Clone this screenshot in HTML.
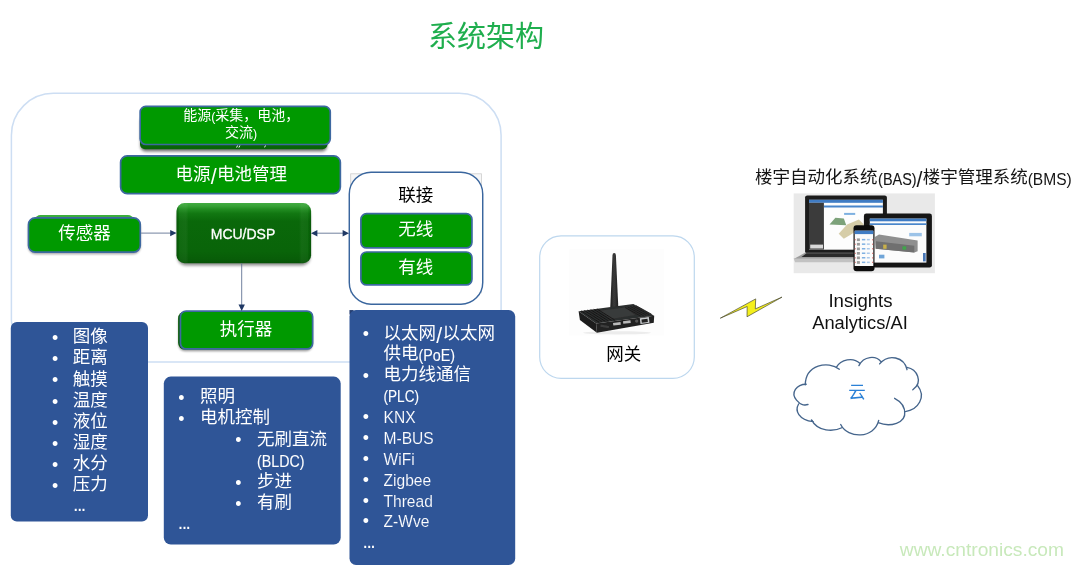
<!DOCTYPE html>
<html lang="zh">
<head>
<meta charset="utf-8">
<title>系统架构</title>
<style>
html,body{margin:0;padding:0;background:#fff}
body{width:1084px;height:566px;position:relative;overflow:hidden;font-family:"Liberation Sans",sans-serif;color:#000}
#pg{position:absolute;left:0;top:0;width:1084px;height:566px;will-change:transform}
.tl{position:absolute;left:0;top:0;white-space:nowrap}
.tl:before{content:"";display:inline-block;width:0;height:1em;vertical-align:-0.12em}
.cj{display:inline-block;position:relative;vertical-align:-0.12em}
.cj .t{position:absolute;left:0;top:-0.05em;width:100%;line-height:1;white-space:nowrap;overflow:visible;font-family:"Liberation Sans","Noto Sans CJK SC",sans-serif}
.la{font-family:"Liberation Sans",sans-serif}
svg.ov{position:absolute;left:0;top:0;overflow:visible}
</style>
</head>
<body>
<div id="pg">
<svg class="ov" width="1084" height="566" viewBox="0 0 1084 566">
<defs>
<filter id="sh" x="-10%" y="-30%" width="120%" height="170%"><feGaussianBlur stdDeviation="1.1"/></filter>
<filter id="sh2" x="-10%" y="-30%" width="120%" height="170%"><feGaussianBlur stdDeviation="1.6"/></filter>
<linearGradient id="mcu" x1="0" y1="0" x2="0" y2="1"><stop offset="0" stop-color="#42ab42"/><stop offset=".05" stop-color="#36a136"/><stop offset=".1" stop-color="#228d22"/><stop offset=".17" stop-color="#127812"/><stop offset=".3" stop-color="#0a680a"/><stop offset=".8" stop-color="#096409"/><stop offset=".93" stop-color="#085d08"/><stop offset="1" stop-color="#065306"/></linearGradient>
<linearGradient id="mcus" x1="0" y1="0" x2="1" y2="0"><stop offset="0" stop-color="#000" stop-opacity=".18"/><stop offset=".02" stop-color="#000" stop-opacity="0"/><stop offset=".021" stop-color="#fff" stop-opacity=".03"/><stop offset=".07" stop-color="#fff" stop-opacity=".045"/><stop offset=".09" stop-color="#fff" stop-opacity="0"/><stop offset=".91" stop-color="#fff" stop-opacity="0"/><stop offset=".93" stop-color="#fff" stop-opacity=".045"/><stop offset=".979" stop-color="#fff" stop-opacity=".03"/><stop offset=".98" stop-color="#000" stop-opacity="0"/><stop offset="1" stop-color="#000" stop-opacity=".18"/></linearGradient>
<linearGradient id="eback" x1="0" y1="0" x2="0" y2="1"><stop offset="0" stop-color="#0a8a0a"/><stop offset="1" stop-color="#076207"/></linearGradient>
</defs>
<rect x="11.40" y="93.30" width="489.70" height="268.60" fill="#fff" rx="42.00" stroke="#cddef3" stroke-width="1.5"/>
<rect x="539.70" y="235.90" width="154.60" height="142.50" fill="#fff" rx="21.40" stroke="#bdd7ee" stroke-width="1.2"/>
<rect x="140.50" y="116.20" width="186.50" height="35.30" rx="5" fill="#000" opacity="0.55" filter="url(#sh2)"/>
<rect x="140.00" y="112.00" width="187.50" height="37.30" fill="url(#eback)" rx="5.00"/>
<path d="M236.6 147.6l1-2.2M238.9 147.6l1-2.2M264.6 147.4l.9-2" stroke="#fff" stroke-width="1" opacity=".95"/>
<rect x="140.15" y="106.40" width="190.10" height="38.10" fill="#009900" rx="5.65" stroke="#3d68a0" stroke-width="1.7"/>
<rect x="120.60" y="155.85" width="219.75" height="37.80" fill="#009900" rx="6.65" stroke="#3d68a0" stroke-width="1.7"/>
<rect x="35.50" y="214.90" width="97.50" height="35.10" fill="#3cae3c" rx="5.00"/>
<rect x="28.15" y="220.20" width="112.45" height="33.95" rx="7.5" fill="#000" opacity="0.35" filter="url(#sh)"/>
<rect x="28.50" y="217.85" width="111.75" height="34.25" fill="#009900" rx="6.65" stroke="#3d68a0" stroke-width="1.7"/>
<rect x="177.50" y="208.20" width="132.60" height="57.20" rx="8" fill="#000" opacity="0.45" filter="url(#sh2)"/>
<rect x="176.50" y="203.10" width="134.60" height="60.10" fill="url(#mcu)" rx="8.00"/>
<rect x="176.50" y="203.10" width="134.60" height="60.10" fill="url(#mcus)" rx="8.00"/>
<rect x="350.70" y="173.80" width="130.80" height="119.00" fill="#f7f7f7" stroke="#cdcdcd" stroke-width="0.8"/>
<rect x="349.28" y="172.22" width="133.45" height="131.95" fill="#fff" rx="21.77" stroke="#3a669e" stroke-width="1.45"/>
<rect x="360.90" y="213.70" width="111.05" height="34.25" fill="#009900" rx="5.65" stroke="#3d68a0" stroke-width="1.7"/>
<rect x="360.90" y="252.00" width="111.05" height="32.95" fill="#009900" rx="5.65" stroke="#3d68a0" stroke-width="1.7"/>
<rect x="178.50" y="314.60" width="134.00" height="36.60" rx="6.5" fill="#000" opacity="0.4" filter="url(#sh)"/>
<rect x="178.10" y="311.50" width="121.90" height="38.10" fill="#0b5c0b" rx="6.50"/>
<rect x="180.45" y="311.05" width="132.20" height="37.90" fill="#009900" rx="5.65" stroke="#3d68a0" stroke-width="1.7"/>
<g stroke="#586c8e" stroke-width="0.85" fill="none"><path d="M141.1 233.1H172"/><path d="M315 233.2H345"/><path d="M241.7 263.5V306"/></g>
<g fill="#1f3864"><path d="M170.2 229.9L176.6 233.1L170.2 236.3Z"/><path d="M317.4 230L311 233.2L317.4 236.4Z"/><path d="M342.6 230L349 233.2L342.6 236.4Z"/><path d="M238.5 304.6L241.7 311L244.9 304.6Z"/></g>
<rect x="10.80" y="322.00" width="137.20" height="199.40" fill="#2f5597" rx="6.00"/>
<rect x="163.80" y="376.60" width="176.90" height="167.90" fill="#2f5597" rx="7.00"/>
<rect x="349.45" y="310.05" width="4.05" height="4.45" fill="#263f72"/>
<rect x="349.50" y="310.00" width="165.70" height="255.00" fill="#2f5597" rx="6.50"/>
</svg>
<div class="tl" style="height:29px;line-height:29px;font-size:29px;color:#1fae4e;transform:translate(calc(486.00px - 50%),24.00px);"><span class="cj" style="width:116px;height:29px;font-size:29px"><span class="t">系统架构</span></span></div>
<div class="tl" style="height:14px;line-height:14px;font-size:14px;color:#fff;transform:translate(calc(241.20px - 50%),109.17px);"><span class="cj" style="width:28px;height:14px;font-size:14px"><span class="t">能源</span></span><span class="la" style="font-size:12.32px;">(</span><span class="cj" style="width:84px;height:14px;font-size:14px"><span class="t">采集，电池，</span></span></div>
<div class="tl" style="height:14px;line-height:14px;font-size:14px;color:#fff;transform:translate(calc(241.00px - 50%),126.07px);"><span class="cj" style="width:28px;height:14px;font-size:14px"><span class="t">交流</span></span><span class="la" style="font-size:12.32px;">)</span></div>
<div class="tl" style="height:17.5px;line-height:17.5px;font-size:17.5px;color:#fff;transform:translate(calc(231.30px - 50%),165.64px);"><span class="cj" style="width:35px;height:17.5px;font-size:17.5px"><span class="t">电源</span></span><span class="la" style="font-size:21.18px;padding:0 0.3px;position:relative;top:1.75px">/</span><span class="cj" style="width:70px;height:17.5px;font-size:17.5px"><span class="t">电池管理</span></span></div>
<div class="tl" style="height:17.5px;line-height:17.5px;font-size:17.5px;color:#fff;transform:translate(calc(84.60px - 50%),226.04px);"><span class="cj" style="width:52.5px;height:17.5px;font-size:17.5px"><span class="t">传感器</span></span></div>
<div class="tl" style="height:14px;line-height:14px;font-size:14px;color:#fff;transform:translate(calc(243.00px - 50%),226.28px);-webkit-text-stroke:0.3px #fff;"><span class="la" style="font-size:14.00px;">MCU/DSP</span></div>
<div class="tl" style="height:17.5px;line-height:17.5px;font-size:17.5px;color:#000;transform:translate(calc(415.80px - 50%),188.04px);"><span class="cj" style="width:35px;height:17.5px;font-size:17.5px"><span class="t">联接</span></span></div>
<div class="tl" style="height:17.5px;line-height:17.5px;font-size:17.5px;color:#fff;transform:translate(calc(415.80px - 50%),222.04px);"><span class="cj" style="width:35px;height:17.5px;font-size:17.5px"><span class="t">无线</span></span></div>
<div class="tl" style="height:17.5px;line-height:17.5px;font-size:17.5px;color:#fff;transform:translate(calc(415.80px - 50%),259.64px);"><span class="cj" style="width:35px;height:17.5px;font-size:17.5px"><span class="t">有线</span></span></div>
<div class="tl" style="height:17.5px;line-height:17.5px;font-size:17.5px;color:#fff;transform:translate(calc(246.00px - 50%),321.64px);"><span class="cj" style="width:52.5px;height:17.5px;font-size:17.5px"><span class="t">执行器</span></span></div>
<div class="tl" style="height:17.7px;line-height:17.7px;font-size:17.7px;color:#fff;transform:translate(calc(55.00px - 50%),328.81px);"><span class="la" style="font-size:17.70px;">•</span></div>
<div class="tl" style="height:17.5px;line-height:17.5px;font-size:17.5px;color:#fff;transform:translate(72.70px,329.44px);"><span class="cj" style="width:35px;height:17.5px;font-size:17.5px"><span class="t">图像</span></span></div>
<div class="tl" style="height:17.7px;line-height:17.7px;font-size:17.7px;color:#fff;transform:translate(calc(55.00px - 50%),349.86px);"><span class="la" style="font-size:17.70px;">•</span></div>
<div class="tl" style="height:17.5px;line-height:17.5px;font-size:17.5px;color:#fff;transform:translate(72.70px,350.49px);"><span class="cj" style="width:35px;height:17.5px;font-size:17.5px"><span class="t">距离</span></span></div>
<div class="tl" style="height:17.7px;line-height:17.7px;font-size:17.7px;color:#fff;transform:translate(calc(55.00px - 50%),370.91px);"><span class="la" style="font-size:17.70px;">•</span></div>
<div class="tl" style="height:17.5px;line-height:17.5px;font-size:17.5px;color:#fff;transform:translate(72.70px,371.54px);"><span class="cj" style="width:35px;height:17.5px;font-size:17.5px"><span class="t">触摸</span></span></div>
<div class="tl" style="height:17.7px;line-height:17.7px;font-size:17.7px;color:#fff;transform:translate(calc(55.00px - 50%),391.96px);"><span class="la" style="font-size:17.70px;">•</span></div>
<div class="tl" style="height:17.5px;line-height:17.5px;font-size:17.5px;color:#fff;transform:translate(72.70px,392.59px);"><span class="cj" style="width:35px;height:17.5px;font-size:17.5px"><span class="t">温度</span></span></div>
<div class="tl" style="height:17.7px;line-height:17.7px;font-size:17.7px;color:#fff;transform:translate(calc(55.00px - 50%),413.01px);"><span class="la" style="font-size:17.70px;">•</span></div>
<div class="tl" style="height:17.5px;line-height:17.5px;font-size:17.5px;color:#fff;transform:translate(72.70px,413.64px);"><span class="cj" style="width:35px;height:17.5px;font-size:17.5px"><span class="t">液位</span></span></div>
<div class="tl" style="height:17.7px;line-height:17.7px;font-size:17.7px;color:#fff;transform:translate(calc(55.00px - 50%),434.06px);"><span class="la" style="font-size:17.70px;">•</span></div>
<div class="tl" style="height:17.5px;line-height:17.5px;font-size:17.5px;color:#fff;transform:translate(72.70px,434.69px);"><span class="cj" style="width:35px;height:17.5px;font-size:17.5px"><span class="t">湿度</span></span></div>
<div class="tl" style="height:17.7px;line-height:17.7px;font-size:17.7px;color:#fff;transform:translate(calc(55.00px - 50%),455.11px);"><span class="la" style="font-size:17.70px;">•</span></div>
<div class="tl" style="height:17.5px;line-height:17.5px;font-size:17.5px;color:#fff;transform:translate(72.70px,455.74px);"><span class="cj" style="width:35px;height:17.5px;font-size:17.5px"><span class="t">水分</span></span></div>
<div class="tl" style="height:17.7px;line-height:17.7px;font-size:17.7px;color:#fff;transform:translate(calc(55.00px - 50%),476.16px);"><span class="la" style="font-size:17.70px;">•</span></div>
<div class="tl" style="height:17.5px;line-height:17.5px;font-size:17.5px;color:#fff;transform:translate(72.70px,476.79px);"><span class="cj" style="width:35px;height:17.5px;font-size:17.5px"><span class="t">压力</span></span></div>
<div class="tl" style="height:17.5px;line-height:17.5px;font-size:17.5px;color:#fff;transform:translate(73.10px,496.04px);letter-spacing:-1.6px;"><span class="la" style="font-size:19.60px;">...</span></div>
<div class="tl" style="height:17.7px;line-height:17.7px;font-size:17.7px;color:#fff;transform:translate(calc(181.40px - 50%),388.81px);"><span class="la" style="font-size:17.70px;">•</span></div>
<div class="tl" style="height:17.5px;line-height:17.5px;font-size:17.5px;color:#fff;transform:translate(200.00px,389.44px);"><span class="cj" style="width:35px;height:17.5px;font-size:17.5px"><span class="t">照明</span></span></div>
<div class="tl" style="height:17.7px;line-height:17.7px;font-size:17.7px;color:#fff;transform:translate(calc(181.40px - 50%),409.86px);"><span class="la" style="font-size:17.70px;">•</span></div>
<div class="tl" style="height:17.5px;line-height:17.5px;font-size:17.5px;color:#fff;transform:translate(200.00px,410.49px);"><span class="cj" style="width:70px;height:17.5px;font-size:17.5px"><span class="t">电机控制</span></span></div>
<div class="tl" style="height:17.7px;line-height:17.7px;font-size:17.7px;color:#fff;transform:translate(calc(238.30px - 50%),430.91px);"><span class="la" style="font-size:17.70px;">•</span></div>
<div class="tl" style="height:17.5px;line-height:17.5px;font-size:17.5px;color:#fff;transform:translate(257.00px,431.54px);"><span class="cj" style="width:70px;height:17.5px;font-size:17.5px"><span class="t">无刷直流</span></span></div>
<div class="tl" style="height:17.5px;line-height:17.5px;font-size:17.5px;color:#fff;transform:translate(257.00px,451.99px);-webkit-text-stroke:0.12px #2f5597;"><span class="la" style="font-size:15.58px;display:inline-block;margin-right:-4.47px;transform:scaleX(0.914);transform-origin:0 0;-webkit-text-stroke:0.1px currentColor;">(BLDC)</span></div>
<div class="tl" style="height:17.7px;line-height:17.7px;font-size:17.7px;color:#fff;transform:translate(calc(238.30px - 50%),473.01px);"><span class="la" style="font-size:17.70px;">•</span></div>
<div class="tl" style="height:17.5px;line-height:17.5px;font-size:17.5px;color:#fff;transform:translate(257.00px,473.64px);"><span class="cj" style="width:35px;height:17.5px;font-size:17.5px"><span class="t">步进</span></span></div>
<div class="tl" style="height:17.7px;line-height:17.7px;font-size:17.7px;color:#fff;transform:translate(calc(238.30px - 50%),494.06px);"><span class="la" style="font-size:17.70px;">•</span></div>
<div class="tl" style="height:17.5px;line-height:17.5px;font-size:17.5px;color:#fff;transform:translate(257.00px,494.69px);"><span class="cj" style="width:35px;height:17.5px;font-size:17.5px"><span class="t">有刷</span></span></div>
<div class="tl" style="height:17.5px;line-height:17.5px;font-size:17.5px;color:#fff;transform:translate(177.80px,514.04px);letter-spacing:-1.6px;"><span class="la" style="font-size:19.60px;">...</span></div>
<div class="tl" style="height:17.7px;line-height:17.7px;font-size:17.7px;color:#fff;transform:translate(calc(365.90px - 50%),324.61px);"><span class="la" style="font-size:17.70px;">•</span></div>
<div class="tl" style="height:17.5px;line-height:17.5px;font-size:17.5px;color:#fff;transform:translate(383.50px,325.24px);"><span class="cj" style="width:52.5px;height:17.5px;font-size:17.5px"><span class="t">以太网</span></span><span class="la" style="font-size:21.18px;padding:0 0.3px;position:relative;top:1.75px">/</span><span class="cj" style="width:52.5px;height:17.5px;font-size:17.5px"><span class="t">以太网</span></span></div>
<div class="tl" style="height:17.5px;line-height:17.5px;font-size:17.5px;color:#fff;transform:translate(383.50px,346.04px);"><span class="cj" style="width:35px;height:17.5px;font-size:17.5px"><span class="t">供电</span></span><span class="la" style="font-size:15.58px;position:relative;top:-0.5px;display:inline-block;margin-right:-3.18px;transform:scaleX(0.92);transform-origin:0 0;-webkit-text-stroke:0.1px currentColor;">(PoE)</span></div>
<div class="tl" style="height:17.7px;line-height:17.7px;font-size:17.7px;color:#fff;transform:translate(calc(365.90px - 50%),366.21px);"><span class="la" style="font-size:17.70px;">•</span></div>
<div class="tl" style="height:17.5px;line-height:17.5px;font-size:17.5px;color:#fff;transform:translate(383.50px,366.84px);"><span class="cj" style="width:87.5px;height:17.5px;font-size:17.5px"><span class="t">电力线通信</span></span></div>
<div class="tl" style="height:17.5px;line-height:17.5px;font-size:17.5px;color:#fff;transform:translate(383.50px,387.24px);-webkit-text-stroke:0.12px #2f5597;"><span class="la" style="font-size:15.58px;display:inline-block;margin-right:-5.12px;transform:scaleX(0.874);transform-origin:0 0;-webkit-text-stroke:0.1px currentColor;">(PLC)</span></div>
<div class="tl" style="height:17.7px;line-height:17.7px;font-size:17.7px;color:#fff;transform:translate(calc(365.90px - 50%),407.81px);"><span class="la" style="font-size:17.70px;">•</span></div>
<div class="tl" style="height:17.5px;line-height:17.5px;font-size:17.5px;color:#fff;transform:translate(383.50px,408.04px);-webkit-text-stroke:0.12px #2f5597;"><span class="la" style="font-size:15.58px;">KNX</span></div>
<div class="tl" style="height:17.7px;line-height:17.7px;font-size:17.7px;color:#fff;transform:translate(calc(365.90px - 50%),428.61px);"><span class="la" style="font-size:17.70px;">•</span></div>
<div class="tl" style="height:17.5px;line-height:17.5px;font-size:17.5px;color:#fff;transform:translate(383.50px,428.84px);-webkit-text-stroke:0.12px #2f5597;"><span class="la" style="font-size:15.58px;">M-BUS</span></div>
<div class="tl" style="height:17.7px;line-height:17.7px;font-size:17.7px;color:#fff;transform:translate(calc(365.90px - 50%),449.41px);"><span class="la" style="font-size:17.70px;">•</span></div>
<div class="tl" style="height:17.5px;line-height:17.5px;font-size:17.5px;color:#fff;transform:translate(383.50px,449.64px);-webkit-text-stroke:0.12px #2f5597;"><span class="la" style="font-size:15.58px;">WiFi</span></div>
<div class="tl" style="height:17.7px;line-height:17.7px;font-size:17.7px;color:#fff;transform:translate(calc(365.90px - 50%),470.21px);"><span class="la" style="font-size:17.70px;">•</span></div>
<div class="tl" style="height:17.5px;line-height:17.5px;font-size:17.5px;color:#fff;transform:translate(383.50px,470.44px);-webkit-text-stroke:0.12px #2f5597;"><span class="la" style="font-size:15.58px;">Zigbee</span></div>
<div class="tl" style="height:17.7px;line-height:17.7px;font-size:17.7px;color:#fff;transform:translate(calc(365.90px - 50%),491.01px);"><span class="la" style="font-size:17.70px;">•</span></div>
<div class="tl" style="height:17.5px;line-height:17.5px;font-size:17.5px;color:#fff;transform:translate(383.50px,491.24px);-webkit-text-stroke:0.12px #2f5597;"><span class="la" style="font-size:15.58px;">Thread</span></div>
<div class="tl" style="height:17.7px;line-height:17.7px;font-size:17.7px;color:#fff;transform:translate(calc(365.90px - 50%),511.81px);"><span class="la" style="font-size:17.70px;">•</span></div>
<div class="tl" style="height:17.5px;line-height:17.5px;font-size:17.5px;color:#fff;transform:translate(383.50px,512.04px);-webkit-text-stroke:0.12px #2f5597;"><span class="la" style="font-size:15.58px;">Z-Wve</span></div>
<div class="tl" style="height:17.5px;line-height:17.5px;font-size:17.5px;color:#fff;transform:translate(362.60px,532.94px);letter-spacing:-1.6px;"><span class="la" style="font-size:19.60px;">...</span></div>
<div class="tl" style="height:17.5px;line-height:17.5px;font-size:17.5px;color:#000;transform:translate(calc(623.70px - 50%),347.44px);"><span class="cj" style="width:35px;height:17.5px;font-size:17.5px"><span class="t">网关</span></span></div>
<div class="tl" style="height:17.5px;line-height:17.5px;font-size:17.5px;color:#151515;transform:translate(calc(913.45px - 50%),168.84px);"><span class="cj" style="width:122.5px;height:17.5px;font-size:17.5px"><span class="t">楼宇自动化系统</span></span><span class="la" style="font-size:15.58px;display:inline-block;margin-right:-2.99px;transform:scaleX(0.928);transform-origin:0 0;-webkit-text-stroke:0.1px currentColor;">(BAS)</span><span class="la" style="font-size:21.18px;padding:0 0.3px;position:relative;top:1.75px">/</span><span class="cj" style="width:105px;height:17.5px;font-size:17.5px"><span class="t">楼宇管理系统</span></span><span class="la" style="font-size:15.58px;">(BMS)</span></div>
<div class="tl" style="height:18.6px;line-height:18.6px;font-size:18.6px;color:#111;transform:translate(calc(860.50px - 50%),290.73px);"><span class="la" style="font-size:18.60px;">Insights</span></div>
<div class="tl" style="height:18.3px;line-height:18.3px;font-size:18.3px;color:#111;transform:translate(calc(860.00px - 50%),313.20px);"><span class="la" style="font-size:18.30px;">Analytics/AI</span></div>
<div class="tl" style="height:17.5px;line-height:17.5px;font-size:17.5px;color:#2a80d6;transform:translate(calc(857.00px - 50%),384.94px);"><span class="cj" style="width:17.5px;height:17.5px;font-size:17.5px"><span class="t">云</span></span></div>
<div class="tl" style="height:19.2px;line-height:19.2px;font-size:19.2px;color:#c8e9bb;transform:translate(calc(981.90px - 50%),539.20px);"><span class="la" style="font-size:19.20px;">www.cntronics.com</span></div>
<svg class="ov" width="1084" height="566" viewBox="0 0 1084 566">
<defs>
<filter id="bl" x="-5%" y="-5%" width="110%" height="110%"><feGaussianBlur stdDeviation="0.45"/></filter>
<filter id="bl2" x="-5%" y="-5%" width="110%" height="110%"><feGaussianBlur stdDeviation="0.35"/></filter>
<linearGradient id="ant" x1="0" x2="1" y1="0" y2="0"><stop offset="0" stop-color="#1b1b1b"/><stop offset="0.45" stop-color="#3a3a3a"/><stop offset="1" stop-color="#202020"/></linearGradient>
</defs>
<rect x="569.2" y="249.2" width="94.8" height="86.4" fill="#fdfdfd"/>
<g filter="url(#bl)">
<ellipse cx="617" cy="332.8" rx="34" ry="1.6" fill="#ececec"/>
<path d="M612.5 255.2Q612.6 253 614.2 253Q615.8 253 615.9 255.2L618.3 307L610.3 307Z" fill="url(#ant)"/>
<polygon points="578.6,311.2 633.4,304.0 654.2,315.8 596.1,323.6" fill="#2c2d2d"/>
<polygon points="599.4,310.8 625.1,307.5 635.1,314.9 611.0,319.1" fill="#393a3a"/>
<path d="M581.1 310.9L599.0 322.2" stroke="#141414" stroke-width="0.9"/><path d="M584.3 310.5L602.1 321.7" stroke="#141414" stroke-width="0.9"/><path d="M587.4 310.1L605.3 321.3" stroke="#141414" stroke-width="0.9"/><path d="M590.6 309.7L608.4 320.9" stroke="#141414" stroke-width="0.9"/><path d="M593.8 309.3L611.6 320.5" stroke="#141414" stroke-width="0.9"/><path d="M596.9 308.9L614.8 320.1" stroke="#141414" stroke-width="0.9"/><path d="M625.1 307.5L640.9 316.2" stroke="#181818" stroke-width="0.8"/><path d="M627.8 307.0L643.6 315.7" stroke="#181818" stroke-width="0.8"/><path d="M630.5 306.5L646.2 315.2" stroke="#181818" stroke-width="0.8"/><path d="M633.1 306.0L648.9 314.7" stroke="#181818" stroke-width="0.8"/><path d="M635.8 305.5L651.5 314.2" stroke="#181818" stroke-width="0.8"/>
<polygon points="578.6,311.2 596.1,323.6 596.9,332.8 579.9,319.9" fill="#1c1c1c"/>
<polygon points="596.1,323.6 654.2,315.8 653.8,322.8 596.9,332.8" fill="#212121"/>
<rect x="613.1" y="322.4" width="7.6" height="2.7" fill="#b9b9b9" transform="rotate(-7 617 323.7)"/>
<rect x="623.1" y="320.7" width="7.5" height="2.7" fill="#b9b9b9" transform="rotate(-7 627 322)"/>
<circle cx="636.7" cy="321.1" r="1.7" fill="#555"/>
<rect x="640.1" y="317.6" width="9.1" height="5.8" fill="#c9ccce" transform="rotate(-7 644.6 320.5)"/>
<rect x="641.6" y="319" width="6.1" height="3.4" fill="#222" transform="rotate(-7 644.6 320.5)"/>
<rect x="600.4" y="325.2" width="8.6" height="2.4" fill="#3c3c3c" transform="rotate(10 604.7 326.4)"/>
</g>
</svg>
<svg class="ov" width="1084" height="566" viewBox="0 0 1084 566"><g filter="url(#bl2)"><rect x="793.7" y="193.4" width="141.2" height="79.8" fill="#e9e9e9"/><rect x="805.1" y="195.4" width="81.8" height="58.1" fill="#1a1a1a" rx="2.2"/><rect x="809.0" y="199.8" width="73.9" height="49.9" fill="#fdfdfd"/><rect x="809.0" y="199.8" width="73.9" height="3.0" fill="#3f7cc4"/><rect x="809.0" y="202.8" width="14.9" height="46.8" fill="#3a3a3a"/><rect x="824.0" y="205.5" width="58.9" height="2.0" fill="#4a86cb"/><rect x="810.2" y="244.6" width="12.8" height="3.9" fill="#d8d8d8"/><polygon points="805.1,252.7 886.9,252.7 889.4,258.9 793.7,258.9" fill="#9d9d9d"/><polygon points="806.5,253.2 886.1,253.2 887.8,256.9 801.5,256.9" fill="#2a2a2a"/><polygon points="793.7,258.5 889.4,258.5 888.8,262.2 795.1,262.2" fill="#c2c2c2"/><polygon points="829.5,224.5 835.4,217.7 843.8,218.6 846.3,225.3" fill="#7da27a"/><polygon points="838.7,233.7 847.1,224.5 858.9,219.4 863.9,224.5 852.2,233.7 843.8,238.7" fill="#d6cda8"/><rect x="844.1" y="212.9" width="11.1" height="2.0" fill="#7db0e0"/><rect x="863.9" y="213.5" width="68.0" height="54.1" fill="#141414" rx="2.4"/><rect x="869.8" y="218.6" width="56.6" height="44.0" fill="#fcfcfc"/><rect x="869.8" y="218.6" width="56.6" height="2.7" fill="#3f7cc4"/><rect x="869.8" y="223.3" width="56.6" height="1.7" fill="#4a86cb"/><polygon points="874.8,237.0 879.0,234.5 917.6,240.4 917.6,251.3 914.3,252.5 875.7,248.8" fill="#8f8f8f"/><polygon points="875.7,241.2 914.3,245.8 914.3,252.5 875.7,248.8" fill="#6f6f6f"/><rect x="902.5" y="246.3" width="3.7" height="3.4" fill="#3fa64b"/><rect x="883.2" y="244.6" width="3.4" height="4.2" fill="#c8b04a"/><rect x="909.2" y="232.9" width="12.6" height="3.4" fill="#9cc3e8"/><rect x="923.0" y="253.0" width="2.7" height="8.4" fill="#4a78b8"/><rect x="879.0" y="254.7" width="5.4" height="3.7" fill="#6fa5d8"/><rect x="853.5" y="225.3" width="21.0" height="46.0" fill="#0f0f0f" rx="3"/><rect x="854.7" y="230.7" width="18.6" height="35.3" fill="#fbfbfb"/><rect x="854.7" y="230.7" width="18.6" height="3.4" fill="#3f7cc4"/><rect x="856.9" y="238.4" width="3.0" height="2.7" fill="#9a9a9a"/><rect x="861.9" y="238.9" width="3.4" height="1.5" fill="#7fb0e2"/><rect x="866.9" y="238.9" width="2.9" height="1.5" fill="#a9c8ea"/><rect x="854.8" y="239.1" width="0.8" height="1.3" fill="#d9534f"/><rect x="872.3" y="239.1" width="0.8" height="1.3" fill="#d9534f"/><rect x="856.9" y="242.9" width="3.0" height="2.7" fill="#9a9a9a"/><rect x="861.9" y="243.4" width="3.4" height="1.5" fill="#7fb0e2"/><rect x="866.9" y="243.4" width="2.9" height="1.5" fill="#a9c8ea"/><rect x="854.8" y="243.6" width="0.8" height="1.3" fill="#d9534f"/><rect x="872.3" y="243.6" width="0.8" height="1.3" fill="#d9534f"/><rect x="856.9" y="247.5" width="3.0" height="2.7" fill="#9a9a9a"/><rect x="861.9" y="248.0" width="3.4" height="1.5" fill="#7fb0e2"/><rect x="866.9" y="248.0" width="2.9" height="1.5" fill="#a9c8ea"/><rect x="854.8" y="248.1" width="0.8" height="1.3" fill="#d9534f"/><rect x="872.3" y="248.1" width="0.8" height="1.3" fill="#d9534f"/><rect x="856.9" y="252.0" width="3.0" height="2.7" fill="#9a9a9a"/><rect x="861.9" y="252.5" width="3.4" height="1.5" fill="#7fb0e2"/><rect x="866.9" y="252.5" width="2.9" height="1.5" fill="#a9c8ea"/><rect x="854.8" y="252.7" width="0.8" height="1.3" fill="#d9534f"/><rect x="872.3" y="252.7" width="0.8" height="1.3" fill="#d9534f"/><rect x="856.9" y="256.5" width="3.0" height="2.7" fill="#9a9a9a"/><rect x="861.9" y="257.0" width="3.4" height="1.5" fill="#7fb0e2"/><rect x="866.9" y="257.0" width="2.9" height="1.5" fill="#a9c8ea"/><rect x="854.8" y="257.2" width="0.8" height="1.3" fill="#d9534f"/><rect x="872.3" y="257.2" width="0.8" height="1.3" fill="#d9534f"/><rect x="856.9" y="261.1" width="3.0" height="2.7" fill="#9a9a9a"/><rect x="861.9" y="261.6" width="3.4" height="1.5" fill="#7fb0e2"/><rect x="866.9" y="261.6" width="2.9" height="1.5" fill="#a9c8ea"/><rect x="854.8" y="261.7" width="0.8" height="1.3" fill="#d9534f"/><rect x="872.3" y="261.7" width="0.8" height="1.3" fill="#d9534f"/></g></svg>
<svg class="ov" width="1084" height="566" viewBox="0 0 1084 566">
<path d="M720.3 318.2L755.7 298.9L755.3 308.9L782 297.1L747 316.8L747.2 306.5Z" fill="#f4ef1c" stroke="#4a4a30" stroke-width="0.7" stroke-linejoin="round"/>
<path d="M806.2 384.2C796.5 384.2 790.3 393.0 796.5 400.1 S805.3 404.5 808.0 404.5M798.6 404.0C794.7 410.7 798.3 419.5 813.3 421.7M811.5 419.9C817.7 431.9 833.6 431.9 842.5 427.5M840.7 424.5C847.8 439.0 874.3 439.0 878.7 420.4M878.2 422.7C890.2 427.5 906.1 423.1 904.7 411.6M894.6 398.3C901.7 401.9 905.2 408.0 904.7 414.2M905.2 411.6C918.5 409.8 926.4 396.6 917.6 385.6M912.8 389.8C923.8 381.5 916.7 369.2 907.0 367.4M907.0 369.7C904.3 356.8 888.4 353.3 879.6 363.9M881.3 362.1C876.0 355.0 863.7 355.9 858.9 365.6M859.8 363.3C853.1 356.8 840.7 359.4 836.3 367.4M839.3 369.2C828.3 360.3 805.3 364.7 805.3 385.1" fill="none" stroke="#45658c" stroke-width="1.35" stroke-linecap="round"/>
</svg>
</div>
</body>
</html>
